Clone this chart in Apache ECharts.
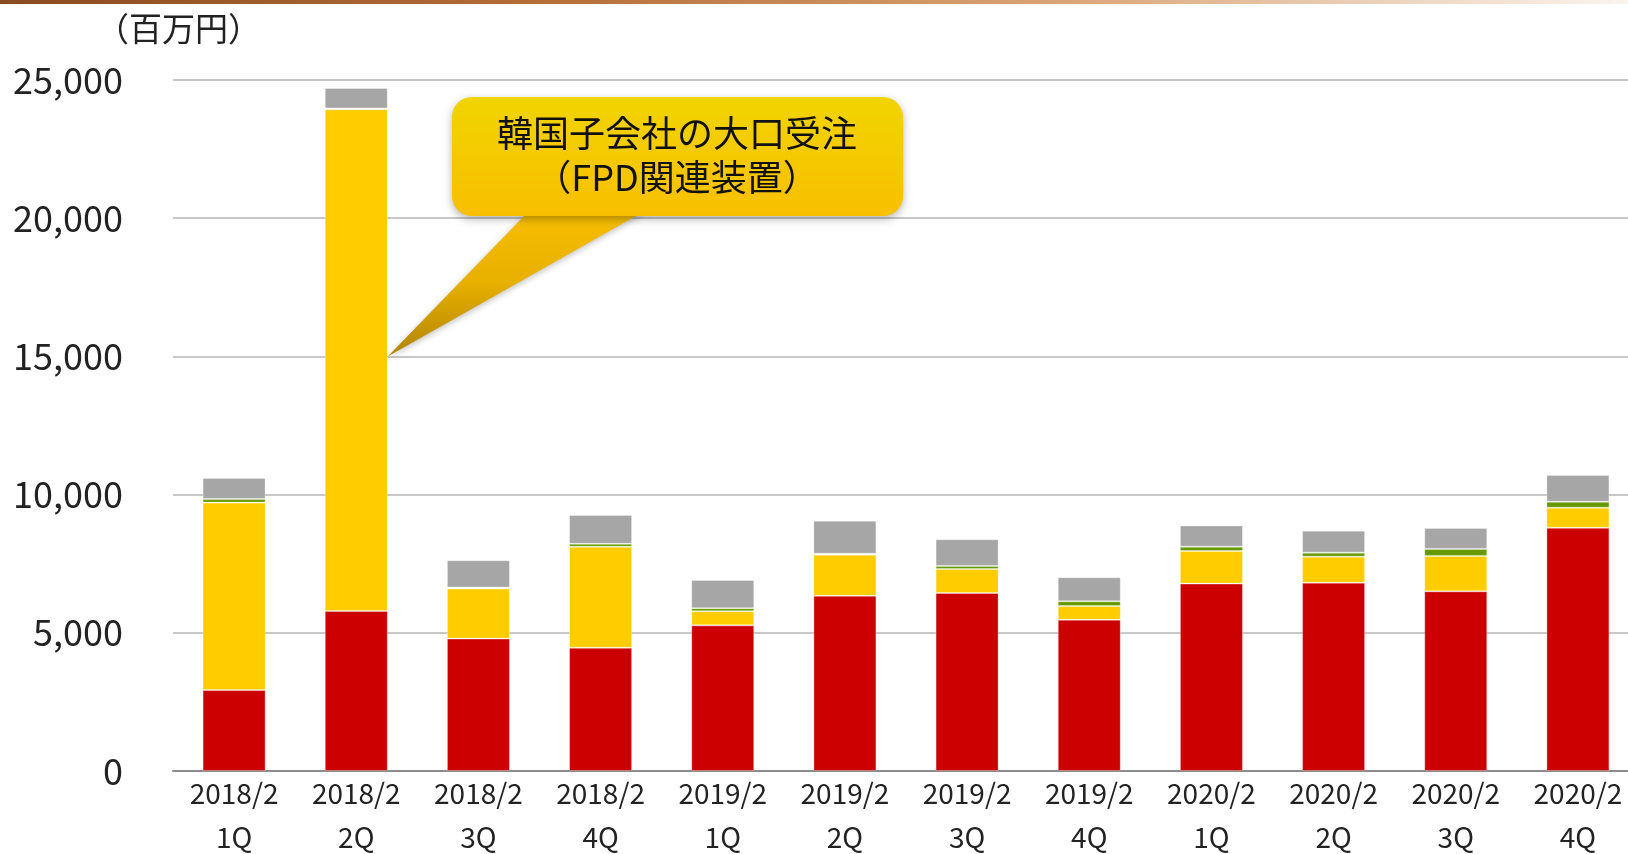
<!DOCTYPE html>
<html>
<head>
<meta charset="utf-8">
<script src="https://cdn.jsdelivr.net/npm/echarts@6/dist/echarts.min.js"></script>
<style>
  html, body { margin: 0; padding: 0; background: #fff; }
  #chart { width: 1628px; height: 854px; }
</style>
</head>
<body>
<div id="chart"></div>
<script>
// 四半期ラベル
const periods = ['2018/2', '2018/2', '2018/2', '2018/2', '2019/2', '2019/2', '2019/2', '2019/2', '2020/2', '2020/2', '2020/2', '2020/2']
const quarters = ['1Q', '2Q', '3Q', '4Q', '1Q', '2Q', '3Q', '4Q', '1Q', '2Q', '3Q', '4Q']

// 積み上げ各セグメント（百万円）
const redValues = [2930, 5790, 4790, 4460, 5270, 6340, 6440, 5475, 6780, 6815, 6500, 8800]
const yellowValues = [6780, 18150, 1810, 3650, 510, 1485, 870, 495, 1180, 940, 1280, 725]
const greenValues = [130, 30, 35, 110, 110, 35, 110, 170, 155, 145, 255, 215]
const grayValues = [760, 740, 990, 1040, 1020, 1195, 965, 870, 770, 795, 760, 965]

const yTicks = [0, 5000, 10000, 15000, 20000, 25000]

const calloutLines = ['韓国子会社の大口受注', '（FPD関連装置）']
const calloutIndex = 1
const calloutValue = 15000

const FONT = '"Noto Sans CJK JP", "Noto Sans", sans-serif'

const chart = echarts.init(document.getElementById('chart'))

const makeSeries = (name, data, color) => ({
  name,
  type: 'bar',
  stack: 'total',
  barWidth: 63,
  data,
  itemStyle: { color, borderColor: 'rgba(255,255,255,0.3)', borderWidth: 1 },
  emphasis: { disabled: true }
})

const option = {
  animation: false,
  grid: {
    left: 173, top: 80, width: 1466, height: 691,
    containLabel: false,
    outerBoundsMode: 'none'
  },
  xAxis: {
    type: 'category',
    data: periods.map((p, i) => p + '\n' + quarters[i]),
    axisTick: { show: false },
    axisLine: { lineStyle: { color: '#8c8c8c', width: 2 } },
    axisLabel: {
      margin: 0,
      color: '#222',
      fontFamily: FONT,
      fontSize: 28,
      lineHeight: 44,
      verticalAlign: 'top'
    }
  },
  yAxis: {
    type: 'value',
    min: yTicks[0],
    max: yTicks[yTicks.length - 1],
    interval: yTicks[1] - yTicks[0],
    axisLine: { show: false },
    axisTick: { show: false },
    splitLine: { lineStyle: { color: '#c8c8c8', width: 2 } },
    axisLabel: {
      margin: 50,
      color: '#222',
      fontFamily: FONT,
      fontSize: 36,
      formatter: v => v.toLocaleString('en-US')
    }
  },
  series: [
    makeSeries('系列1', redValues, '#cc0000'),
    makeSeries('系列2', yellowValues, '#ffcc00'),
    makeSeries('系列3', greenValues, '#669900'),
    makeSeries('系列4', grayValues, '#a6a6a6')
  ]
}

chart.setOption(option)

// 吹き出しの先端は棒の右端・15,000の位置
const tip = chart.convertToPixel({ gridIndex: 0 }, [calloutIndex, calloutValue])
const tipX = tip[0] + 31.5
const tipY = tip[1]

// 吹き出し本体の下辺で根元が 524〜636 になるよう少し内側から描く
const boxBottom = 216
const baseY = 208
const along = (x0) => x0 + (x0 - tipX) * (boxBottom - baseY) / (tipY - boxBottom)

chart.setOption({
  graphic: [
    {
      type: 'rect',
      left: 0, top: 0,
      shape: { width: 1628, height: 4 },
      style: {
        fill: {
          type: 'linear', x: 0, y: 0, x2: 1, y2: 0,
          colorStops: [
            { offset: 0, color: '#8a4a20' },
            { offset: 0.35, color: '#b8703a' },
            { offset: 0.65, color: '#d9a476' },
            { offset: 1, color: '#fbf4ee' }
          ]
        }
      },
      silent: true
    },
    {
      type: 'text',
      left: 96, top: 12,
      style: { text: '（百万円）', font: '33px ' + FONT, fill: '#222' },
      silent: true
    },
    {
      type: 'polygon',
      shape: { points: [[along(524), baseY], [along(636), baseY], [tipX, tipY]] },
      style: {
        fill: {
          type: 'linear', x: 0, y: 0, x2: 0, y2: 1,
          colorStops: [
            { offset: 0, color: '#f8be00' },
            { offset: 0.5, color: '#e8b000' },
            { offset: 1, color: '#b08400' }
          ]
        },
        shadowBlur: 6,
        shadowColor: 'rgba(0,0,0,0.25)',
        shadowOffsetY: 2
      },
      z: 10,
      silent: true
    },
    {
      type: 'rect',
      shape: { x: 452, y: 97, width: 451, height: boxBottom - 97, r: 20 },
      style: {
        fill: {
          type: 'linear', x: 0, y: 0, x2: 0, y2: 1,
          colorStops: [
            { offset: 0, color: '#f1d400' },
            { offset: 1, color: '#f8bf00' }
          ]
        },
        shadowBlur: 8,
        shadowColor: 'rgba(0,0,0,0.3)',
        shadowOffsetY: 3
      },
      z: 11,
      silent: true
    },
    {
      type: 'text',
      x: 677, y: 155,
      style: {
        text: calloutLines.join('\n'),
        font: '36px ' + FONT,
        lineHeight: 44,
        fill: '#111',
        align: 'center',
        verticalAlign: 'middle'
      },
      z: 12,
      silent: true
    }
  ]
})
</script>
</body>
</html>
